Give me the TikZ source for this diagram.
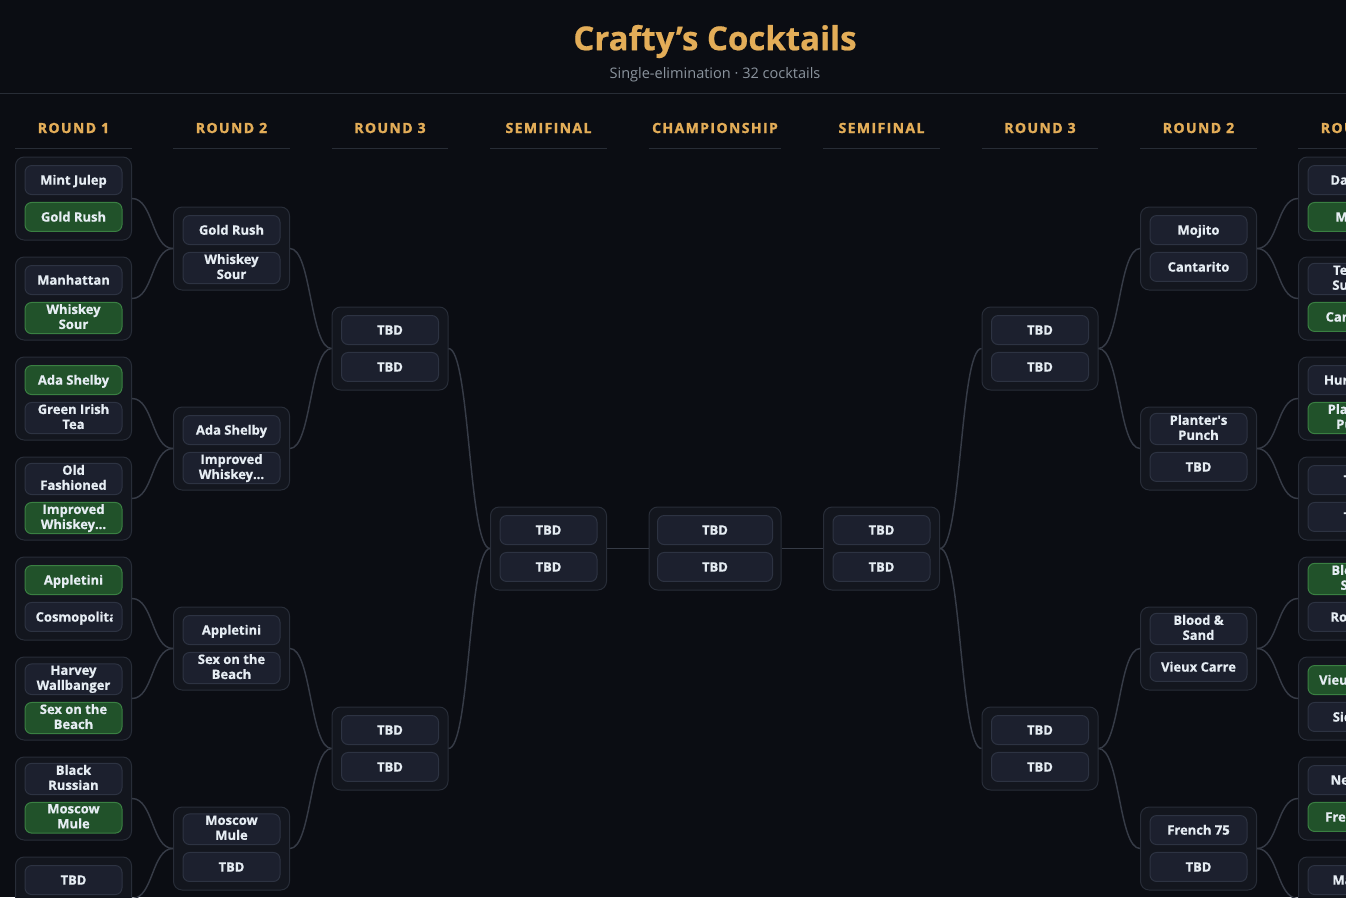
\documentclass[tikz,border=0pt]{standalone}
\usepackage{fontspec}
\setmainfont{Open Sans}[BoldFeatures={FakeBold=0.6}]
\newfontfamily\headfont{Open Sans}[LetterSpace=10, BoldFeatures={FakeBold=1.6}]

\definecolor{bgcol}{RGB}{11,13,19}
\definecolor{boxfill}{RGB}{19,22,30}
\definecolor{boxline}{RGB}{40,45,56}
\definecolor{slotfill}{RGB}{28,32,46}
\definecolor{slotline}{RGB}{45,51,66}
\definecolor{wonfill}{RGB}{33,82,42}
\definecolor{wonline}{RGB}{58,128,66}
\definecolor{wirecol}{RGB}{54,59,70}
\definecolor{rulecol}{RGB}{40,45,54}
\definecolor{gold}{RGB}{227,173,88}
\definecolor{subgray}{RGB}{139,148,158}
\definecolor{ink}{RGB}{230,237,243}

\tikzset{
  boutbox/.style = {draw=boxline, fill=boxfill, line width=0.75pt, rounded corners=6.5pt,
                    minimum width=87pt, minimum height=62.25pt, inner sep=0pt},
  wide/.style = {minimum width=99pt},
  slot/.style = {draw=slotline, fill=slotfill, line width=0.75pt, rounded corners=5pt,
                 minimum width=72.75pt, minimum height=21.75pt, inner xsep=2pt, inner ysep=1.2pt,
                 align=center, text=ink, font=\bfseries\fontsize{9.75}{11.25}\selectfont,
                 execute at begin node={\rule[-2.34pt]{0pt}{11.64pt}}},
  won/.style = {slot, draw=wonline, fill=wonfill},
  wideslot/.style = {minimum width=86.25pt},
  colhead/.style = {text=gold, font=\headfont\bfseries\fontsize{10.5}{12}\selectfont,
                    minimum width=87pt, inner xsep=0pt},
  rule/.style = {draw=rulecol, line width=0.75pt},
  wire/.style = {draw=wirecol, line width=1.1pt},
  link/.style = {wire, to path={.. controls +(21.5,0) and +(-21.5,0) .. (\tikztotarget)}}
}

% one match: [box options]{name}{x}{y}{top}{top style}{bottom}{bottom style}
\newcommand{\bout}[8][]{%
  \node[boutbox,#1] (#2) at (#3,#4) {};
  \node[#6, anchor=south] (#2-a) at ([yshift=2.6pt]#2.center) {#5};
  \node[#8, anchor=north] (#2-b) at ([yshift=-2.6pt]#2.center) {#7};
}

\begin{document}
\begin{tikzpicture}[x=0.75pt,y=-0.75pt]
\useasboundingbox (0,0) rectangle (1346,897);
\fill[bgcol] (0,0) rectangle (1346,897);
\clip (0,0) rectangle (1346,897);

% title
\node[text=gold, font=\bfseries\fontsize{24.75}{30}\selectfont] (title) at (715,41.5) {Crafty’s Cocktails};
\node[text=subgray, font=\fontsize{10.9}{13}\selectfont] (subtitle) at (715,75) {Single-elimination · 32 cocktails};
\draw[rule] (0,93) -- (1346,93);

% column heads
\node[colhead] (hL1) at (73.5,128) {ROUND 1};
\node[colhead] (hL2) at (231.5,128) {ROUND 2};
\node[colhead] (hL3) at (390,128) {ROUND 3};
\node[colhead] (hLS) at (548.5,128) {SEMIFINAL};
\node[colhead, wide] (hCH) at (715,128) {CHAMPIONSHIP};
\node[colhead] (hRS) at (881.5,128) {SEMIFINAL};
\node[colhead] (hR3) at (1040,128) {ROUND 3};
\node[colhead] (hR2) at (1198.5,128) {ROUND 2};
\node[colhead] (hR1) at (1356.5,128) {ROUND 1};
\draw[rule] ([yshift=-15pt]hL1.west) -- ([yshift=-15pt]hL1.east);
\draw[rule] ([yshift=-15pt]hL2.west) -- ([yshift=-15pt]hL2.east);
\draw[rule] ([yshift=-15pt]hL3.west) -- ([yshift=-15pt]hL3.east);
\draw[rule] ([yshift=-15pt]hLS.west) -- ([yshift=-15pt]hLS.east);
\draw[rule] ([yshift=-15pt]hCH.west) -- ([yshift=-15pt]hCH.east);
\draw[rule] ([yshift=-15pt]hRS.west) -- ([yshift=-15pt]hRS.east);
\draw[rule] ([yshift=-15pt]hR3.west) -- ([yshift=-15pt]hR3.east);
\draw[rule] ([yshift=-15pt]hR2.west) -- ([yshift=-15pt]hR2.east);
\draw[rule] ([yshift=-15pt]hR1.west) -- ([yshift=-15pt]hR1.east);

% left half
\bout{L1a}{73.5}{198.5}{Mint Julep}{slot}{Gold Rush}{won}
\bout{L1b}{73.5}{298.5}{Manhattan}{slot}{Whiskey\\Sour}{won}
\bout{L1c}{73.5}{398.5}{Ada Shelby}{won}{Green Irish\\Tea}{slot}
\bout{L1d}{73.5}{498.5}{Old\\Fashioned}{slot}{Improved\\Whiskey…}{won}
\bout{L1e}{73.5}{598.5}{Appletini}{won}{}{slot}
\bout{L1f}{73.5}{698.5}{Harvey\\Wallbanger}{slot}{Sex on the\\Beach}{won}
\bout{L1g}{73.5}{798.5}{Black\\Russian}{slot}{Moscow\\Mule}{won}
\bout{L1h}{73.5}{898.5}{TBD}{slot}{TBD}{slot}
\begin{scope}
\clip ([xshift=7.5pt]L1e-b.south west) rectangle ([xshift=-7.5pt]L1e-b.north east);
\node[slot, draw=none, fill=none, minimum width=0pt, anchor=west] (cosmo) at ([xshift=6pt]L1e-b.west) {Cosmopolitan};
\end{scope}

\bout{L2a}{231.5}{248.5}{Gold Rush}{slot}{Whiskey\\Sour}{slot}
\bout{L2b}{231.5}{448.5}{Ada Shelby}{slot}{Improved\\Whiskey…}{slot}
\bout{L2c}{231.5}{648.5}{Appletini}{slot}{Sex on the\\Beach}{slot}
\bout{L2d}{231.5}{848.5}{Moscow\\Mule}{slot}{TBD}{slot}

\bout{L3a}{390}{348.5}{TBD}{slot}{TBD}{slot}
\bout{L3b}{390}{748.5}{TBD}{slot}{TBD}{slot}
\bout{LSF}{548.5}{548.5}{TBD}{slot}{TBD}{slot}

% final
\bout[wide]{CH}{715}{548.5}{TBD}{slot,wideslot}{TBD}{slot,wideslot}

% right half
\bout{RSF}{881.5}{548.5}{TBD}{slot}{TBD}{slot}
\bout{R3a}{1040}{348.5}{TBD}{slot}{TBD}{slot}
\bout{R3b}{1040}{748.5}{TBD}{slot}{TBD}{slot}

\bout{R2a}{1198.5}{248.5}{Mojito}{slot}{Cantarito}{slot}
\bout{R2b}{1198.5}{448.5}{Planter\textquotesingle s\\Punch}{slot}{TBD}{slot}
\bout{R2c}{1198.5}{648.5}{Blood \&\\Sand}{slot}{Vieux Carre}{slot}
\bout{R2d}{1198.5}{848.5}{French 75}{slot}{TBD}{slot}

\bout{R1a}{1356.5}{198.5}{Daiquiri}{slot}{Mojito}{won}
\bout{R1b}{1356.5}{298.5}{Tequila\\Sunrise}{slot}{Cantarito}{won}
\bout{R1c}{1356.5}{398.5}{Hurricane}{slot}{Planter\textquotesingle s\\Punch}{won}
\bout{R1d}{1356.5}{498.5}{TBD}{slot}{TBD}{slot}
\bout{R1e}{1356.5}{598.5}{Blood \&\\Sand}{won}{Rob Roy}{slot}
\bout{R1f}{1356.5}{698.5}{Vieux Carre}{won}{Sidecar}{slot}
\bout{R1g}{1356.5}{798.5}{Negroni}{slot}{French 75}{won}
\bout{R1h}{1356.5}{898.5}{Martini}{slot}{TBD}{slot}

% connectors
\draw[link] (L1a.east) to (L2a.west);
\draw[link] (L1b.east) to (L2a.west);
\draw[link] (L1c.east) to (L2b.west);
\draw[link] (L1d.east) to (L2b.west);
\draw[link] (L1e.east) to (L2c.west);
\draw[link] (L1f.east) to (L2c.west);
\draw[link] (L1g.east) to (L2d.west);
\draw[link] (L1h.east) to (L2d.west);
\draw[link] (L2a.east) to (L3a.west);
\draw[link] (L2b.east) to (L3a.west);
\draw[link] (L2c.east) to (L3b.west);
\draw[link] (L2d.east) to (L3b.west);
\draw[link] (L3a.east) to (LSF.west);
\draw[link] (L3b.east) to (LSF.west);
\draw[wire] (LSF.east) -- (CH.west);
\draw[wire] (CH.east) -- (RSF.west);
\draw[link] (RSF.east) to (R3a.west);
\draw[link] (RSF.east) to (R3b.west);
\draw[link] (R3a.east) to (R2a.west);
\draw[link] (R3a.east) to (R2b.west);
\draw[link] (R3b.east) to (R2c.west);
\draw[link] (R3b.east) to (R2d.west);
\draw[link] (R2a.east) to (R1a.west);
\draw[link] (R2a.east) to (R1b.west);
\draw[link] (R2b.east) to (R1c.west);
\draw[link] (R2b.east) to (R1d.west);
\draw[link] (R2c.east) to (R1e.west);
\draw[link] (R2c.east) to (R1f.west);
\draw[link] (R2d.east) to (R1g.west);
\draw[link] (R2d.east) to (R1h.west);
\end{tikzpicture}
\end{document}
